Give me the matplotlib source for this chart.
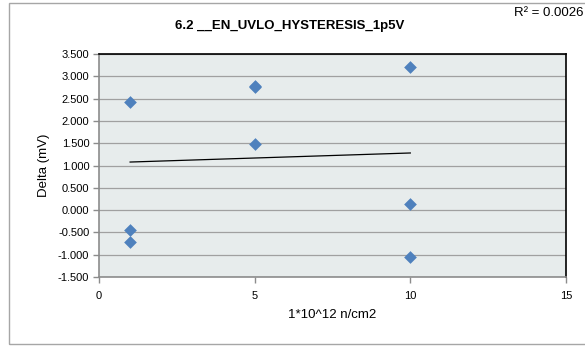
import numpy as np
import matplotlib.pyplot as plt
from matplotlib.patches import Rectangle

plt.rcParams['font.family'] = ['Liberation Sans', 'DejaVu Sans']

# data
fluence = [1, 1, 1, 5, 5, 5, 10, 10, 10]
delta = [2.43, -0.44, -0.71, 2.78, 2.76, 1.48, 3.21, 0.13, -1.06]
title = '6.2 __EN_UVLO_HYSTERESIS_1p5V'
r2_text = 'R² = 0.0026'
yticks = [-1.5, -1.0, -0.5, 0.0, 0.5, 1.0, 1.5, 2.0, 2.5, 3.0, 3.5]
xticks = [0, 5, 10, 15]

fig = plt.figure(figsize=(5.85, 3.46), dpi=100)
fig.patches.append(Rectangle((0.016, 0.006), 1.2, 0.985, transform=fig.transFigure,
                             fill=False, edgecolor='#A6A6A6', linewidth=1.0))

ax = fig.add_axes([0.1692, 0.1994, 0.7983, 0.6445])
ax.set_facecolor('#E7ECEC')

# linear trendline
x = np.array(fluence, dtype=float)
y = np.array(delta)
slope, intercept = np.polyfit(x, y, 1)
xl = np.array([min(fluence), max(fluence)], dtype=float)
ax.plot(xl, slope * xl + intercept, color='black', linewidth=0.9, zorder=2)

ax.scatter(fluence, delta, marker='D', s=42, color='#4F81BD', zorder=3, linewidths=0)

ax.set_xlim(0, 15)
ax.set_ylim(-1.5, 3.5)
ax.set_xticks(xticks)
ax.set_yticks(yticks)
ax.set_yticklabels([f'{v:.3f}' for v in yticks])
ax.grid(True, axis='y', color='#A0A0A0', linewidth=0.9)
ax.set_axisbelow(True)

for side in ['left', 'bottom']:
    ax.spines[side].set_color('#8C8C8C')
    ax.spines[side].set_linewidth(1.2)
for side in ['top', 'right']:
    ax.spines[side].set_color('black')
    ax.spines[side].set_linewidth(1.2)
ax.tick_params(axis='both', labelsize=8, length=4, color='#8C8C8C', width=1, pad=3)
ax.tick_params(axis='x', pad=6)

ax.set_xlabel('1*10^12 n/cm2', fontsize=9.5, labelpad=6)
ax.set_ylabel('Delta (mV)', fontsize=9.5, labelpad=6)

fig.text(0.496, 0.925, title, fontsize=9.5, fontweight='bold', ha='center', va='center')
fig.text(0.998, 0.962, r2_text, fontsize=9.5, ha='right', va='center')

fig.savefig('out.png', dpi=100)
